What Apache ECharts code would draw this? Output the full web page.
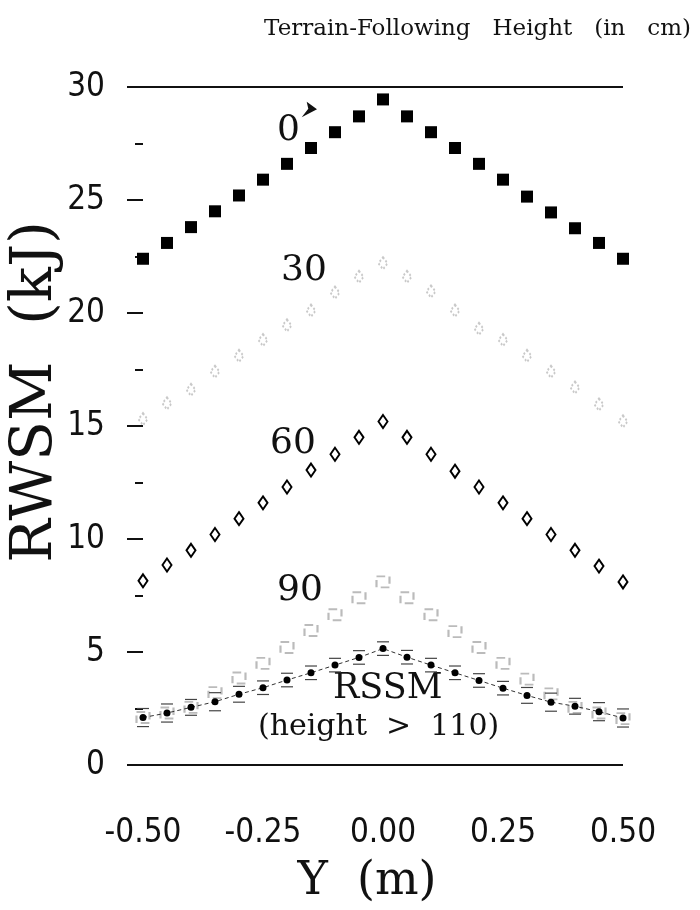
<!DOCTYPE html>
<html>
<head>
<meta charset="utf-8">
<script src="https://cdn.jsdelivr.net/npm/echarts@6/dist/echarts.min.js"></script>
<style>
  html, body { margin: 0; padding: 0; background: #fff; }
  #chart { width: 700px; height: 910px; }
</style>
</head>
<body>
<div id="chart"></div>
<script>
// lateral position Y (m)
var yPos = [-0.5, -0.45, -0.4, -0.35, -0.3, -0.25, -0.2, -0.15, -0.1, -0.05, 0,
            0.05, 0.1, 0.15, 0.2, 0.25, 0.3, 0.35, 0.4, 0.45, 0.5];

// RWSM (kJ) at terrain-following heights
var h0  = [22.4, 23.1, 23.8, 24.5, 25.2, 25.9, 26.6, 27.3, 28.0, 28.7, 29.45,
           28.7, 28.0, 27.3, 26.6, 25.9, 25.15, 24.45, 23.75, 23.1, 22.4];
var h30 = [15.3, 16.0, 16.6, 17.4, 18.1, 18.8, 19.45, 20.1, 20.9, 21.6, 22.2,
           21.6, 20.95, 20.1, 19.3, 18.8, 18.1, 17.4, 16.7, 15.95, 15.2];
var h60 = [8.15, 8.85, 9.5, 10.2, 10.9, 11.6, 12.3, 13.05, 13.75, 14.5, 15.2,
           14.5, 13.75, 13.0, 12.3, 11.6, 10.9, 10.2, 9.5, 8.8, 8.1];
var h90 = [2.1, 2.3, 2.55, 3.2, 3.85, 4.5, 5.2, 5.95, 6.65, 7.4, 8.1,
           7.4, 6.65, 5.9, 5.2, 4.5, 3.8, 3.15, 2.55, 2.3, 2.05];
var rssm    = [2.1, 2.3, 2.55, 2.8, 3.13, 3.42, 3.76, 4.08, 4.42, 4.76, 5.15,
               4.77, 4.42, 4.08, 3.74, 3.4, 3.08, 2.78, 2.6, 2.36, 2.08];
var rssmErr = [0.4, 0.4, 0.35, 0.4, 0.35, 0.3, 0.3, 0.3, 0.3, 0.3, 0.3,
               0.3, 0.3, 0.3, 0.3, 0.3, 0.35, 0.4, 0.35, 0.4, 0.4];

function pairs(vals) {
    return yPos.map(function (x, i) { return [x, vals[i]]; });
}

var narrow = "'Liberation Sans Narrow', 'DejaVu Sans Condensed', sans-serif";
var serif = "'DejaVu Serif', 'Liberation Serif', serif";

var myChart = echarts.init(document.getElementById('chart'), null, { renderer: 'canvas' });

var option = {
    animation: false,
    backgroundColor: '#fff',
    title: {
        text: 'Terrain-Following   Height   (in   cm)',
        right: 4,
        top: 13,
        textStyle: { fontFamily: serif, fontSize: 23, fontWeight: 'normal', color: '#111' }
    },
    grid: { left: 143, right: 77, top: 87, bottom: 145, containLabel: false, outerBoundsMode: 'none' },
    xAxis: {
        type: 'value',
        min: -0.5, max: 0.5, interval: 0.25,
        axisLine: { show: false, onZero: false },
        axisTick: { show: false },
        splitLine: { show: false },
        axisLabel: {
            margin: 52,
            fontSize: 33,
            fontFamily: narrow,
            color: '#111',
            formatter: function (v) { return v.toFixed(2); }
        }
    },
    yAxis: {
        type: 'value',
        min: 0, max: 30, interval: 5,
        axisLine: { show: false, onZero: false },
        axisTick: { show: true, length: 16, lineStyle: { color: '#111', width: 2 } },
        minorTick: { show: true, splitNumber: 2, length: 8, lineStyle: { color: '#111', width: 2 } },
        splitLine: { show: false },
        minorSplitLine: { show: false },
        axisLabel: { margin: 38, fontSize: 33, fontFamily: narrow, color: '#111' }
    },
    series: [
        {
            name: '0',
            type: 'scatter',
            data: pairs(h0),
            symbol: 'rect',
            symbolSize: 12,
            itemStyle: { color: '#000', opacity: 1 },
            markLine: {
                silent: true,
                symbol: 'none',
                label: { show: false },
                lineStyle: { color: '#111', width: 2, type: 'solid' },
                data: [{ yAxis: 0 }, { yAxis: 30 }]
            }
        },
        {
            name: '30',
            type: 'scatter',
            data: pairs(h30),
            symbol: 'emptyDiamond',
            symbolSize: [9, 12],
            itemStyle: { color: '#bbb', borderColor: '#bbb', borderWidth: 1, borderType: 'dotted' }
        },
        {
            name: '60',
            type: 'scatter',
            data: pairs(h60),
            symbol: 'emptyDiamond',
            symbolSize: [9, 13],
            itemStyle: { color: '#000', borderColor: '#000', borderWidth: 2.5, opacity: 1 }
        },
        {
            name: '90',
            type: 'scatter',
            data: pairs(h90),
            symbol: 'emptyRect',
            symbolSize: [13, 11],
            itemStyle: { color: '#aaa', borderColor: '#aaa', borderWidth: 1, borderType: 'dashed' }
        },
        {
            name: 'RSSM err',
            type: 'custom',
            data: yPos.map(function (x, i) { return [x, rssm[i] - rssmErr[i], rssm[i] + rssmErr[i]]; }),
            renderItem: function (params, api) {
                var lo = api.coord([api.value(0), api.value(1)]);
                var hi = api.coord([api.value(0), api.value(2)]);
                var w = 6;
                var st = { stroke: '#444', lineWidth: 1.2 };
                return {
                    type: 'group',
                    children: [
                        { type: 'line', shape: { x1: lo[0] - w, y1: lo[1], x2: lo[0] + w, y2: lo[1] }, style: st },
                        { type: 'line', shape: { x1: hi[0] - w, y1: hi[1], x2: hi[0] + w, y2: hi[1] }, style: st }
                    ]
                };
            },
            z: 3
        },
        {
            name: 'RSSM',
            type: 'line',
            data: pairs(rssm),
            symbol: 'circle',
            symbolSize: 7,
            itemStyle: { color: '#000' },
            lineStyle: { color: '#333', width: 1, type: [4, 3] },
            z: 4
        }
    ],
    graphic: [
        { type: 'text', x: 36, y: 392, rotation: Math.PI / 2,
          style: { text: 'RWSM  (kJ)', font: '58px ' + serif, fill: '#111', align: 'center', verticalAlign: 'middle' } },
        { type: 'text', x: 367, y: 882,
          style: { text: 'Y  (m)', font: '46px ' + serif, fill: '#111', align: 'center', verticalAlign: 'middle' } },
        { type: 'text', left: 277, top: 113, style: { text: '0', font: '36px ' + serif, fill: '#111' } },
        { type: 'polygon', shape: { points: [[306.7, 101.7], [317, 109.3], [301.7, 117.3], [308.3, 108.8]] }, style: { fill: '#111' } },
        { type: 'text', left: 281, top: 253, style: { text: '30', font: '36px ' + serif, fill: '#111' } },
        { type: 'text', left: 270, top: 426, style: { text: '60', font: '36px ' + serif, fill: '#111' } },
        { type: 'text', left: 277, top: 573, style: { text: '90', font: '36px ' + serif, fill: '#111' } },
        { type: 'text', left: 333, top: 671, style: { text: 'RSSM', font: '35px ' + serif, fill: '#111' } },
        { type: 'text', left: 258, top: 712, style: { text: '(height  >  110)', font: '30px ' + serif, fill: '#111' } }
    ]
};

if (option && typeof option === 'object') {
    myChart.setOption(option, true);
}
</script>
</body>
</html>
